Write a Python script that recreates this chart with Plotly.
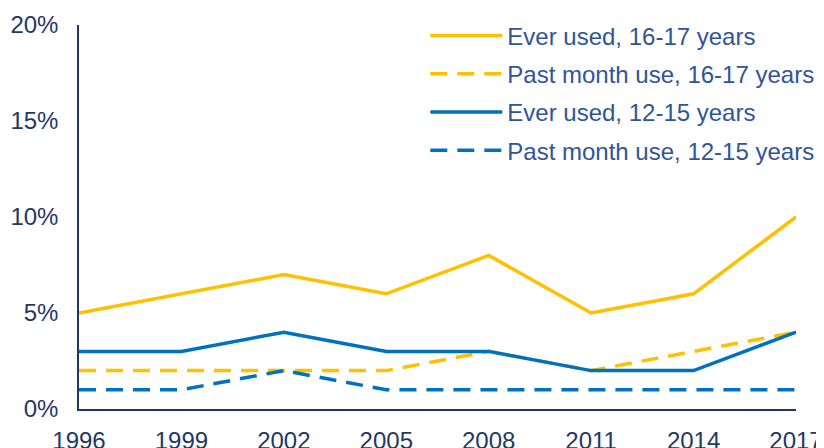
import plotly.graph_objects as go

# Survey years and shares (%)
years = [1996, 1999, 2002, 2005, 2008, 2011, 2014, 2017]
ever_16_17 = [5, 6, 7, 6, 8, 5, 6, 10]
month_16_17 = [2, 2, 2, 2, 3, 2, 3, 4]
ever_12_15 = [3, 3, 4, 3, 3, 2, 2, 4]
month_12_15 = [1, 1, 2, 1, 1, 1, 1, 1]
y_ticks = [0, 5, 10, 15, 20]
y_labels = ["0%", "5%", "10%", "15%", "20%"]

GOLD = "#FFC000"
BLUE = "#0070C0"
NAVY = "#1F3864"
FONT = "Liberation Sans, Arial, sans-serif"

series = [
    ("Ever used, 16-17 years", ever_16_17, GOLD, "solid"),
    ("Past month use, 16-17 years", month_16_17, GOLD, "17px,10px"),
    ("Ever used, 12-15 years", ever_12_15, BLUE, "solid"),
    ("Past month use, 12-15 years", month_12_15, BLUE, "17px,10px"),
]

fig = go.Figure()
for i, (name, vals, color, dash) in enumerate(series):
    fig.add_trace(
        go.Scatter(
            x=years,
            y=vals,
            name=name,
            mode="lines",
            legendgroup=f"g{i}",
            line=dict(color=color, width=3.5, dash=dash),
        )
    )

# page body has an 8px margin, so the figure is laid out 8px smaller
fig.update_layout(
    width=816,
    height=440,
    margin=dict(l=71, r=28, t=17, b=39, autoexpand=False),
    paper_bgcolor="white",
    plot_bgcolor="white",
    font=dict(family=FONT, size=24, color=NAVY),
    showlegend=True,
    legend=dict(
        x=0.483,
        y=1.03,
        xanchor="left",
        yanchor="top",
        bgcolor="rgba(0,0,0,0)",
        font=dict(size=24, color="#2F5597"),
        tracegroupgap=4,
        itemwidth=72,
    ),
)
fig.update_xaxes(
    range=[1996, 2017],
    tickvals=years,
    showgrid=False,
    zeroline=False,
    showline=True,
    linecolor=NAVY,
    linewidth=1.5,
    ticks="outside",
    ticklen=9,
    tickcolor="white",
    tickfont=dict(size=24, color=NAVY),
)
fig.update_yaxes(
    range=[0, 20],
    tickvals=y_ticks,
    ticktext=y_labels,
    showgrid=False,
    zeroline=False,
    showline=True,
    linecolor=NAVY,
    linewidth=1.5,
    ticklabelstandoff=14,
    tickfont=dict(size=24, color=NAVY),
)

fig.write_html("out.html")
